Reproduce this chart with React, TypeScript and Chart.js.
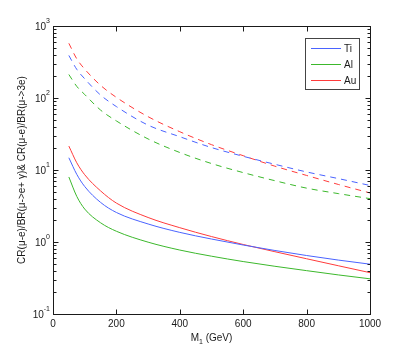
import React, { useEffect, useRef } from "react";
import { Chart, registerables } from "chart.js";

Chart.register(...registerables);

const xValues = [50, 75, 100, 150, 200, 300, 400, 500, 600, 700, 800, 900, 1000];
const tiSolid = [14.8, 8.7, 5.9, 3.55, 2.57, 1.78, 1.36, 1.1, 0.908, 0.762, 0.649, 0.561, 0.492];
const alSolid = [8.0, 4.3, 2.87, 1.85, 1.41, 0.995, 0.773, 0.635, 0.535, 0.46, 0.4, 0.349, 0.308];
const auSolid = [21.5, 12.6, 8.6, 5.13, 3.47, 2.19, 1.58, 1.19, 0.923, 0.733, 0.585, 0.468, 0.375];
const tiDashed = [390, 250, 185, 110, 76, 42, 29, 20.5, 15.5, 12.0, 9.4, 7.6, 6.1];
const alDashed = [212, 145, 112, 68, 48, 27, 17.5, 12.3, 9.2, 7.1, 5.6, 4.7, 4.0];
const auDashed = [575, 350, 252, 150, 102, 55, 34, 22.5, 15.8, 11.3, 8.4, 6.3, 4.8];

const xTicks = [0, 200, 400, 600, 800, 1000];
const yExponents = [-1, 0, 1, 2, 3];
const legendLabels = ["Ti", "Al", "Au"];

const BLUE = "#4a63ff";
const GREEN = "#3cb82c";
const RED = "#ff3b3b";
const FONT = "'Liberation Sans', Arial, sans-serif";

const pts = (ys: number[]) => xValues.map((x, i) => ({ x, y: ys[i] }));

const framePlugin = {
  id: "matlabFrame",
  afterDraw(chart: any) {
    const ctx = chart.ctx;
    const { left, right, top, bottom } = chart.chartArea;
    const xs = chart.scales.x;
    const ys = chart.scales.y;
    const L = Math.round(left) + 0.5;
    const R = Math.round(right) + 0.5;
    const T = Math.round(top) + 0.5;
    const B = Math.round(bottom) + 0.5;
    ctx.save();
    ctx.strokeStyle = "#1a1a1a";
    ctx.lineWidth = 1;
    ctx.setLineDash([]);
    ctx.strokeRect(L, T, R - L, B - T);

    ctx.beginPath();
    xTicks.forEach((v) => {
      const px = Math.round(xs.getPixelForValue(v)) + 0.5;
      ctx.moveTo(px, B);
      ctx.lineTo(px, B - 5);
      ctx.moveTo(px, T);
      ctx.lineTo(px, T + 5);
    });
    yExponents.forEach((e) => {
      const base = Math.pow(10, e);
      const py = Math.round(ys.getPixelForValue(base)) + 0.5;
      ctx.moveTo(L, py);
      ctx.lineTo(L + 5, py);
      ctx.moveTo(R, py);
      ctx.lineTo(R - 5, py);
      if (e < 3) {
        for (let m = 2; m <= 9; m++) {
          const pm = Math.round(ys.getPixelForValue(base * m)) + 0.5;
          ctx.moveTo(L, pm);
          ctx.lineTo(L + 3, pm);
          ctx.moveTo(R, pm);
          ctx.lineTo(R - 3, pm);
        }
      }
    });
    ctx.stroke();

    ctx.fillStyle = "#1a1a1a";
    ctx.font = `10px ${FONT}`;
    ctx.textAlign = "center";
    ctx.textBaseline = "top";
    xTicks.forEach((v) => {
      ctx.fillText(String(v), xs.getPixelForValue(v), bottom + 5);
    });

    yExponents.forEach((e) => {
      const py = ys.getPixelForValue(Math.pow(10, e));
      const expText = String(e);
      ctx.font = `7px ${FONT}`;
      const we = ctx.measureText(expText).width;
      const rightEdge = left - 3;
      ctx.textAlign = "left";
      ctx.textBaseline = "alphabetic";
      ctx.fillText(expText, rightEdge - we, py - 3);
      ctx.font = `10px ${FONT}`;
      ctx.textAlign = "right";
      ctx.textBaseline = "middle";
      ctx.fillText("10", rightEdge - we, py + 1);
    });

    const cx = (left + right) / 2;
    ctx.textBaseline = "alphabetic";
    ctx.font = `10px ${FONT}`;
    const wM = ctx.measureText("M").width;
    const wRest = ctx.measureText(" (GeV)").width;
    ctx.font = `7px ${FONT}`;
    const wSub = ctx.measureText("1").width;
    const total = wM + wSub + wRest;
    const x0 = cx - total / 2;
    const by = 341;
    ctx.textAlign = "left";
    ctx.font = `10px ${FONT}`;
    ctx.fillText("M", x0, by);
    ctx.font = `7px ${FONT}`;
    ctx.fillText("1", x0 + wM, by + 3);
    ctx.font = `10px ${FONT}`;
    ctx.fillText(" (GeV)", x0 + wM + wSub, by);

    ctx.save();
    ctx.translate(22, (top + bottom) / 2);
    ctx.rotate(-Math.PI / 2);
    ctx.textAlign = "center";
    ctx.textBaseline = "middle";
    ctx.font = `10px ${FONT}`;
    ctx.fillText("CR(\u03bc-e)/BR(\u03bc->e+ \u03b3)& CR(\u03bc-e)/BR(\u03bc->3e)", 0, 0);
    ctx.restore();

    const bx = 305.5, byy = 38.5, bw = 54, bh = 51;
    ctx.fillStyle = "#ffffff";
    ctx.fillRect(bx, byy, bw, bh);
    ctx.strokeStyle = "#444444";
    ctx.strokeRect(bx, byy, bw, bh);
    const colors = [BLUE, GREEN, RED];
    const rows = [48.5, 64.5, 80.5];
    legendLabels.forEach((lab, i) => {
      ctx.strokeStyle = colors[i];
      ctx.beginPath();
      ctx.moveTo(311, rows[i]);
      ctx.lineTo(341, rows[i]);
      ctx.stroke();
      ctx.fillStyle = "#1a1a1a";
      ctx.font = `10px ${FONT}`;
      ctx.textAlign = "left";
      ctx.textBaseline = "middle";
      ctx.fillText(lab, 344, rows[i] + 0.5);
    });
    ctx.restore();
  },
};

export default function App() {
  const ref = useRef<HTMLCanvasElement | null>(null);
  useEffect(() => {
    document.body.style.margin = "0";
    if (!ref.current) return;
    const mk = (data: number[], color: string, dashed: boolean) => ({
      data: pts(data),
      borderColor: color,
      backgroundColor: color,
      borderWidth: 1,
      borderDash: dashed ? [6, 5] : [],
      pointRadius: 0,
      fill: false,
      cubicInterpolationMode: "monotone" as const,
    });
    const chart = new Chart(ref.current, {
      type: "line",
      data: {
        datasets: [
          mk(tiSolid, BLUE, false),
          mk(alSolid, GREEN, false),
          mk(auSolid, RED, false),
          mk(tiDashed, BLUE, true),
          mk(alDashed, GREEN, true),
          mk(auDashed, RED, true),
        ],
      },
      options: {
        animation: false,
        responsive: false,
        devicePixelRatio: 1,
        layout: { padding: { left: 53, right: 39, top: 26, bottom: 40 } },
        plugins: { legend: { display: false }, tooltip: { enabled: false } },
        scales: {
          x: { type: "linear", min: 0, max: 1000, display: false },
          y: { type: "logarithmic", min: 0.1, max: 1000, display: false },
        },
      },
      plugins: [framePlugin],
    });
    return () => chart.destroy();
  }, []);
  return (
    <div style={{ position: "absolute", left: 0, top: 0, width: 409, height: 354, background: "#fff" }}>
      <canvas ref={ref} width={409} height={354} />
    </div>
  );
}
